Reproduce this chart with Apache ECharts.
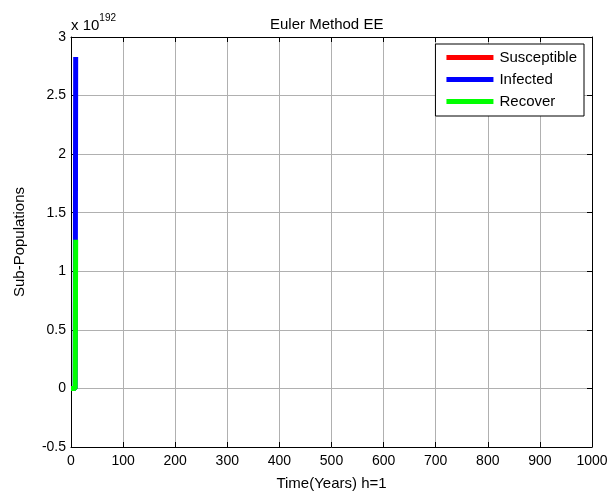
<!DOCTYPE html>
<html lang="en">
<head>
    <meta charset="UTF-8">
    <title>Euler Method EE</title>
    <script src="https://cdn.jsdelivr.net/npm/echarts@6/dist/echarts.min.js"></script>
    <style>
        html, body { margin: 0; padding: 0; background: #fff; }
        #main { width: 608px; height: 493px; }
    </style>
</head>
<body>
    <div id="main"></div>
    <script type="text/javascript">
        // values are in units of 1e192 (axis multiplier shown top-left)
        var timeSteps = [0, 1, 2, 3, 4, 5, 6, 7, 8, 9];
        var susceptible = [0, 0, 0, 0, 0, 0, 0, 0, 0, 0];
        var infected = [0, 0, 0, 0, 0, 0, 0, 0, 0, 2.83];
        var recover = [0, 0, 0, 0, 0, 0, 0, 0, 0, 1.27];
        var seriesNames = ['Susceptible', 'Infected', 'Recover'];
        var seriesColors = ['#ff0000', '#0000ff', '#00ff00'];

        function pairs(ys) {
            var out = [];
            for (var i = 0; i < timeSteps.length; i++) {
                out.push([timeSteps[i], ys[i]]);
            }
            return out;
        }

        function ticks() {
            return { show: true, inside: true, length: 5, lineStyle: { color: '#000' } };
        }

        var font = 'Liberation Sans, Arial, sans-serif';
        var myChart = echarts.init(document.getElementById('main'));

        var option = {
            animation: false,
            backgroundColor: '#fff',
            textStyle: { fontFamily: font },
            title: {
                text: 'Euler Method EE',
                left: 265, top: 12,
                textStyle: { fontSize: 15, fontWeight: 'normal', color: '#000', fontFamily: font }
            },
            legend: {
                data: seriesNames,
                right: 24, top: 44,
                orient: 'vertical',
                icon: 'rect',
                itemWidth: 47, itemHeight: 5, itemGap: 7,
                padding: [6, 7, 7, 11],
                backgroundColor: '#fff',
                borderColor: '#000', borderWidth: 1,
                textStyle: { fontSize: 15, color: '#000', fontFamily: font, padding: [0, 0, 0, 1] }
            },
            grid: { left: 71, top: 37, right: 16, bottom: 46, containLabel: false, outerBoundsMode: 'none' },
            graphic: [{
                type: 'text',
                left: 71, top: 13,
                style: {
                    text: '{b|x 10}{s|192}',
                    rich: {
                        b: { fontSize: 15, fill: '#000', fontFamily: font, verticalAlign: 'bottom', lineHeight: 20 },
                        s: { fontSize: 10, fill: '#000', fontFamily: font, verticalAlign: 'top', lineHeight: 20, padding: [0, 0, 8, 0] }
                    }
                }
            }],
            xAxis: [{
                type: 'value', min: 0, max: 1000, interval: 100,
                name: 'Time(Years) h=1', nameLocation: 'middle', nameGap: 29,
                nameTextStyle: { fontSize: 15, color: '#000', fontFamily: font },
                axisLine: { onZero: false, lineStyle: { color: '#000', width: 1 } },
                axisTick: ticks(),
                axisLabel: { fontSize: 14, color: '#000', margin: 7, fontFamily: font,
                    formatter: function (v) { return String(v); } },
                splitLine: { show: true, lineStyle: { color: '#b0b0b0', width: 1 } }
            }, {
                type: 'value', min: 0, max: 1000, interval: 100, position: 'top',
                axisLine: { show: true, onZero: false, lineStyle: { color: '#000' } },
                axisTick: ticks(), axisLabel: { show: false }, splitLine: { show: false }
            }],
            yAxis: [{
                type: 'value', min: -0.5, max: 3, interval: 0.5,
                name: 'Sub-Populations', nameLocation: 'middle', nameGap: 44,
                nameTextStyle: { fontSize: 15, color: '#000', fontFamily: font },
                axisLine: { show: true, onZero: false, lineStyle: { color: '#000', width: 1 } },
                axisTick: ticks(),
                axisLabel: { fontSize: 14, color: '#000', margin: 5, fontFamily: font },
                splitLine: { show: true, lineStyle: { color: '#b0b0b0', width: 1 } }
            }, {
                type: 'value', min: -0.5, max: 3, interval: 0.5, position: 'right',
                axisLine: { show: true, onZero: false, lineStyle: { color: '#000' } },
                axisTick: ticks(), axisLabel: { show: false }, splitLine: { show: false }
            }],
            series: [susceptible, infected, recover].map(function (ys, i) {
                return {
                    name: seriesNames[i],
                    type: 'line',
                    data: pairs(ys),
                    showSymbol: false,
                    color: seriesColors[i],
                    lineStyle: { width: 5, color: seriesColors[i], cap: 'butt' },
                    z: 3 + i
                };
            })
        };

        myChart.setOption(option);
    </script>
</body>
</html>
